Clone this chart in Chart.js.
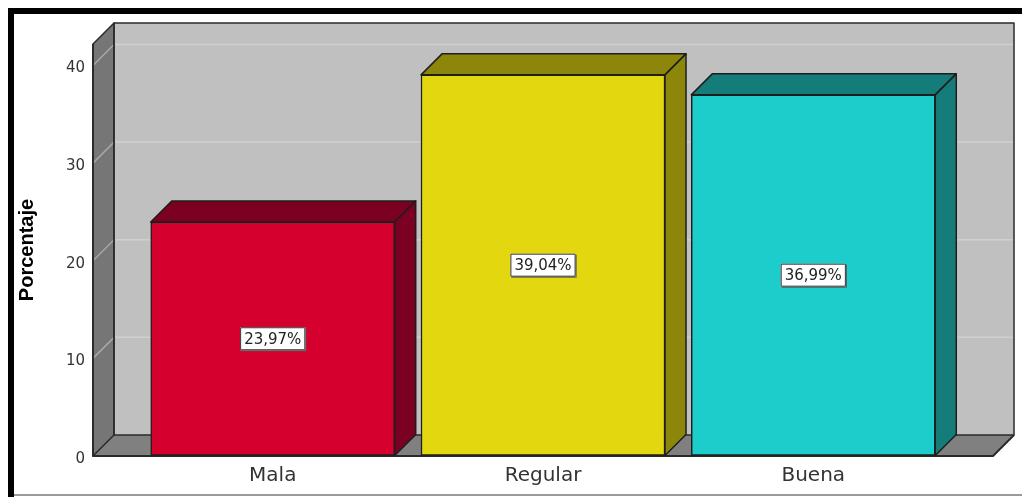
<!DOCTYPE html>
<html>
<head>
<meta charset="utf-8">
<script src="https://cdn.jsdelivr.net/npm/chart.js@4.4.1/dist/chart.umd.min.js"></script>
<style>
  html, body { margin: 0; padding: 0; background: #fff; }
  #wrap { width: 1022px; height: 497px; position: relative; }
</style>
</head>
<body>
<div id="wrap"><canvas id="grafico"></canvas></div>
<script>
const categorias = ['Mala', 'Regular', 'Buena'];
const porcentajes = [23.97, 39.04, 36.99];
const etiquetas = ['23,97%', '39,04%', '36,99%'];
const ticksY = [0, 10, 20, 30, 40];

const corFrente = ['#D6002F', '#E3D80F', '#1DCDCB'];
const corLado = ['#7C0021', '#8C860A', '#147D79'];
const PROF = 21; // profundidade do efeito 3D

const caixa3d = {
  id: 'caixa3d',
  beforeDraw(chart) {
    const ctx = chart.ctx;
    ctx.save();
    ctx.fillStyle = '#000';
    ctx.fillRect(8, 8, 1014, 6);
    ctx.fillRect(8, 8, 6, 489);
    ctx.fillStyle = '#9a9a9a';
    ctx.fillRect(14, 494, 1008, 2);
    ctx.restore();
  },
  beforeDatasetsDraw(chart) {
    const { ctx, chartArea: a, scales: { y } } = chart;
    const L = a.left, R = a.right, T = a.top, B = a.bottom, d = PROF;
    ctx.save();
    ctx.lineJoin = 'round';
    // parede do fundo
    ctx.fillStyle = '#C0C0C0';
    ctx.fillRect(L + d, T - d, R - L, B - T);
    // linhas de grade
    ticksY.forEach(v => {
      if (v === 0) return;
      const py = y.getPixelForValue(v);
      ctx.strokeStyle = '#D0D0D0';
      ctx.lineWidth = 1.5;
      ctx.beginPath();
      ctx.moveTo(L + d, py - d);
      ctx.lineTo(R + d, py - d);
      ctx.stroke();
    });
    // parede esquerda
    ctx.fillStyle = '#767676';
    ctx.beginPath();
    ctx.moveTo(L, T); ctx.lineTo(L + d, T - d); ctx.lineTo(L + d, B - d); ctx.lineTo(L, B);
    ctx.closePath();
    ctx.fill();
    ticksY.forEach(v => {
      if (v === 0) return;
      const py = y.getPixelForValue(v);
      ctx.strokeStyle = '#A8A8A8';
      ctx.lineWidth = 1.5;
      ctx.beginPath();
      ctx.moveTo(L, py);
      ctx.lineTo(L + d, py - d);
      ctx.stroke();
    });
    // piso
    ctx.fillStyle = '#808080';
    ctx.beginPath();
    ctx.moveTo(L, B); ctx.lineTo(L + d, B - d); ctx.lineTo(R + d, B - d); ctx.lineTo(R, B);
    ctx.closePath();
    ctx.fill();
    // contornos
    ctx.strokeStyle = '#2a2a2a';
    ctx.lineWidth = 1.5;
    ctx.strokeRect(L + d, T - d, R - L, B - T);
    ctx.beginPath();
    ctx.moveTo(L, T); ctx.lineTo(L + d, T - d); ctx.lineTo(L + d, B - d); ctx.lineTo(L, B); ctx.closePath();
    ctx.stroke();
    ctx.lineWidth = 2;
    ctx.beginPath();
    ctx.moveTo(L, T); ctx.lineTo(L, B); ctx.lineTo(R, B); ctx.lineTo(R + d, B - d);
    ctx.stroke();
    ctx.restore();
  },
  afterDatasetsDraw(chart) {
    const ctx = chart.ctx, d = PROF;
    const meta = chart.getDatasetMeta(0);
    ctx.save();
    ctx.lineJoin = 'round';
    ctx.strokeStyle = '#1e1e1e';
    ctx.lineWidth = 1.5;
    meta.data.forEach((bar, i) => {
      const { x, y: top, base, width } = bar.getProps(['x', 'y', 'base', 'width'], true);
      const l = x - width / 2, r = x + width / 2;
      ctx.fillStyle = corLado[i];
      ctx.beginPath();
      ctx.moveTo(l, top); ctx.lineTo(l + d, top - d); ctx.lineTo(r + d, top - d); ctx.lineTo(r, top); ctx.closePath();
      ctx.fill(); ctx.stroke();
      ctx.beginPath();
      ctx.moveTo(r, top); ctx.lineTo(r + d, top - d); ctx.lineTo(r + d, base - d); ctx.lineTo(r, base); ctx.closePath();
      ctx.fill(); ctx.stroke();
    });
    // rótulos de valor
    ctx.font = '15px "DejaVu Sans"';
    ctx.textAlign = 'center';
    ctx.textBaseline = 'middle';
    meta.data.forEach((bar, i) => {
      const { x, y: top, base } = bar.getProps(['x', 'y', 'base'], true);
      const cy = (top + base) / 2;
      const w = ctx.measureText(etiquetas[i]).width + 8, h = 23;
      ctx.fillStyle = '#555';
      ctx.fillRect(x - w / 2 + 1, cy - h / 2 + 1, w, h);
      ctx.fillStyle = '#fff';
      ctx.fillRect(x - w / 2, cy - h / 2, w, h);
      ctx.strokeStyle = '#333';
      ctx.lineWidth = 1;
      ctx.strokeRect(x - w / 2 + 0.5, cy - h / 2 + 0.5, w - 1, h - 1);
      ctx.fillStyle = '#222';
      ctx.fillText(etiquetas[i], x, cy + 1);
    });
    ctx.restore();
  }
};

const ctx = document.getElementById('grafico').getContext('2d');
new Chart(ctx, {
  type: 'bar',
  data: {
    datasets: [{
      data: porcentajes.map((v, i) => ({ x: i + 1, y: v })),
      backgroundColor: corFrente,
      borderColor: '#1e1e1e',
      borderWidth: 1.5,
      borderSkipped: false,
      barThickness: 244
    }]
  },
  options: {
    responsive: true,
    maintainAspectRatio: false,
    animation: false,
    layout: { padding: { left: 0, top: 44, right: 29, bottom: 0 } },
    plugins: { legend: { display: false }, tooltip: { enabled: false } },
    scales: {
      x: {
        type: 'linear',
        min: 0.335,
        max: 3.665,
        offset: false,
        grid: { display: true, drawOnChartArea: false, drawTicks: false },
        border: { display: false },
        afterBuildTicks: s => { s.ticks = categorias.map((c, i) => ({ value: i + 1 })); },
        afterFit: s => { s.height = 41; },
        ticks: {
          autoSkip: false,
          maxRotation: 0,
          padding: 8,
          color: '#333',
          font: { family: 'DejaVu Sans', size: 20 },
          callback: v => categorias[v - 1]
        }
      },
      y: {
        min: 0,
        max: 42.2,
        grid: { display: true, drawOnChartArea: false, drawTicks: false },
        border: { display: false },
        afterBuildTicks: s => { s.ticks = ticksY.map(v => ({ value: v })); },
        afterFit: s => { s.width = 93; },
        ticks: {
          padding: 8,
          labelOffset: 3,
          color: '#333',
          font: { family: 'DejaVu Sans', size: 15 }
        },
        title: {
          display: true,
          text: 'Porcentaje',
          color: '#000',
          padding: { top: 15, bottom: 0 },
          font: { family: 'Liberation Sans', size: 20, weight: 'bold' }
        }
      }
    }
  },
  plugins: [caixa3d]
});
</script>
</body>
</html>
